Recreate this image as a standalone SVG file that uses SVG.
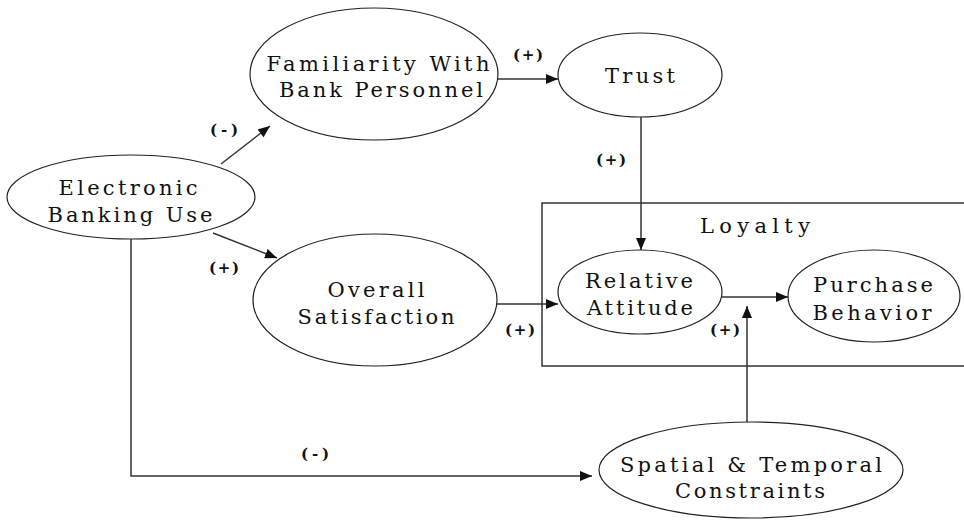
<svg xmlns="http://www.w3.org/2000/svg" width="964" height="524" viewBox="0 0 964 524">
  <style>
    .node ellipse { fill: #fff; stroke: #222; stroke-width: 1.2; }
    .lbl { font-family: "DejaVu Serif", "Liberation Serif", serif; font-size: 21px; fill: #111; text-anchor: middle; }
    .sign { font-family: "DejaVu Serif", "Liberation Serif", serif; font-size: 15px; font-weight: bold; fill: #111; text-anchor: middle; }
    .edge { fill: none; stroke: #333; stroke-width: 1.5; }
  </style>
  <defs>
    <marker id="arrow" viewBox="0 0 12 10" refX="12" refY="5" markerWidth="12" markerHeight="10" markerUnits="userSpaceOnUse" orient="auto">
      <path d="M0,0 L12,5 L0,10 Z" fill="#111"/>
    </marker>
  </defs>

  <rect width="964" height="524" fill="#fff"/>

  <!-- Loyalty frame -->
  <g id="loyalty">
    <path d="M964,203 H542 V366 H964" fill="none" stroke="#333" stroke-width="1.5"/>
    <text class="lbl" x="755" y="233" font-size="26" textLength="110" lengthAdjust="spacing">Loyalty</text>
  </g>

  <!-- connectors -->
  <g id="connectors">
    <line class="edge" x1="221" y1="164" x2="270" y2="126" marker-end="url(#arrow)"/>
    <line class="edge" x1="213" y1="233" x2="277" y2="258" marker-end="url(#arrow)"/>
    <line class="edge" x1="498" y1="79" x2="558" y2="79" marker-end="url(#arrow)"/>
    <line class="edge" x1="641" y1="117" x2="641" y2="250" marker-end="url(#arrow)"/>
    <line class="edge" x1="497" y1="304" x2="558" y2="304" marker-end="url(#arrow)"/>
    <line class="edge" x1="722" y1="297" x2="788" y2="297" marker-end="url(#arrow)"/>
    <line class="edge" x1="747" y1="422" x2="747" y2="306" marker-end="url(#arrow)"/>
    <polyline class="edge" points="131,238 131,476 592,476" marker-end="url(#arrow)"/>
  </g>

  <!-- effect signs -->
  <g id="signs">
    <text class="sign" x="224" y="135" textLength="28" lengthAdjust="spacing">(-)</text>
    <text class="sign" x="528" y="60" textLength="30" lengthAdjust="spacing">(+)</text>
    <text class="sign" x="611" y="165" textLength="30" lengthAdjust="spacing">(+)</text>
    <text class="sign" x="224" y="273" textLength="30" lengthAdjust="spacing">(+)</text>
    <text class="sign" x="520" y="335" textLength="30" lengthAdjust="spacing">(+)</text>
    <text class="sign" x="725" y="335" textLength="30" lengthAdjust="spacing">(+)</text>
    <text class="sign" x="315" y="459" textLength="28" lengthAdjust="spacing">(-)</text>
  </g>

  <g id="ebu" class="node">
    <ellipse cx="131" cy="197" rx="124" ry="42"/>
    <text class="lbl" x="128" y="195" textLength="139" lengthAdjust="spacing">Electronic</text>
    <text class="lbl" x="130" y="222" textLength="165" lengthAdjust="spacing">Banking Use</text>
  </g>

  <g id="familiarity" class="node">
    <ellipse cx="374" cy="74" rx="124" ry="66"/>
    <text class="lbl" x="378" y="71" textLength="223" lengthAdjust="spacing">Familiarity With</text>
    <text class="lbl" x="381" y="97" textLength="204" lengthAdjust="spacing">Bank Personnel</text>
  </g>

  <g id="trust" class="node">
    <ellipse cx="640" cy="75" rx="82" ry="42"/>
    <text class="lbl" x="640" y="83" textLength="70" lengthAdjust="spacing">Trust</text>
  </g>

  <g id="satisfaction" class="node">
    <ellipse cx="375" cy="300" rx="122" ry="66"/>
    <text class="lbl" x="376" y="297" textLength="97" lengthAdjust="spacing">Overall</text>
    <text class="lbl" x="376" y="324" textLength="157" lengthAdjust="spacing">Satisfaction</text>
  </g>

  <g id="attitude" class="node">
    <ellipse cx="640" cy="292" rx="82" ry="42"/>
    <text class="lbl" x="639" y="288" textLength="108" lengthAdjust="spacing">Relative</text>
    <text class="lbl" x="640" y="315" textLength="106" lengthAdjust="spacing">Attitude</text>
  </g>

  <g id="behavior" class="node">
    <ellipse cx="874" cy="296" rx="86" ry="46"/>
    <text class="lbl" x="873" y="292" textLength="120" lengthAdjust="spacing">Purchase</text>
    <text class="lbl" x="872" y="320" textLength="119" lengthAdjust="spacing">Behavior</text>
  </g>

  <g id="constraints" class="node">
    <ellipse cx="751" cy="470" rx="152" ry="48"/>
    <text class="lbl" x="751" y="472" textLength="262" lengthAdjust="spacing">Spatial &amp; Temporal</text>
    <text class="lbl" x="750" y="498" textLength="150" lengthAdjust="spacing">Constraints</text>
  </g>
</svg>
